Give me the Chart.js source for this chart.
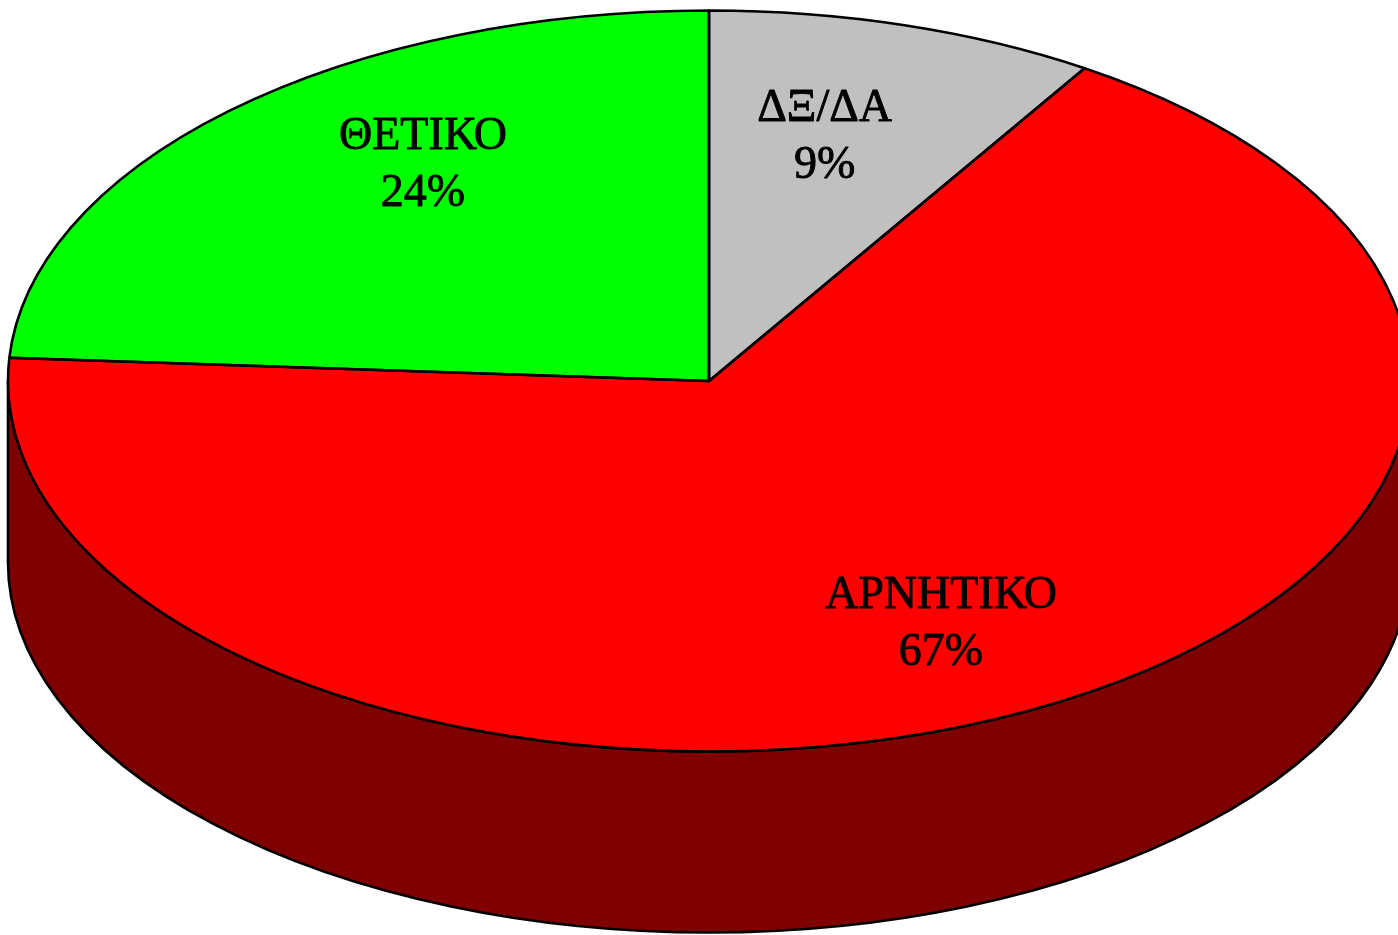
<!DOCTYPE html>
<html>
<head>
<meta charset="utf-8">
<script src="https://cdn.jsdelivr.net/npm/chart.js@4.4.0/dist/chart.umd.min.js"></script>
<style>
html, body { margin: 0; padding: 0; background: #fff; overflow: hidden; }
#wrap { position: relative; width: 1410px; height: 935px; }
</style>
</head>
<body>
<div id="wrap"><canvas id="pieChart"></canvas></div>
<script>
const labels = ['ΔΞ/ΔΑ', 'ΑΡΝΗΤΙΚΟ', 'ΘΕΤΙΚΟ']
const values = [9, 67, 24]
const colors = ['#C0C0C0', '#FF0000', '#00FF00']
// label block spots, as fractions of the ellipse radii from the centre
const labelSpots = [[0.165, -0.702], [0.331, 0.613], [-0.408, -0.626]]

function darker(hex) {
    let n = parseInt(hex.slice(1), 16)
    let r = (n >> 16) & 255, g = (n >> 8) & 255, b = n & 255
    return 'rgb(' + (r >> 1) + ',' + (g >> 1) + ',' + (b >> 1) + ')'
}

// squash the round pie into a tilted ellipse and give it a side wall
const pie3d = {
    id: 'pie3d',
    geom(chart) {
        const arc = chart.getDatasetMeta(0).data[0]
        const o = chart.options.plugins.pie3d
        const rx = chart.chartArea.width / 2
        return { cx: arc.x, cy: arc.y, R: arc.outerRadius, rx: rx, ry: rx * o.tilt, depth: o.depth }
    },
    squash(ctx, g) {
        ctx.translate(g.cx, g.cy)
        ctx.scale(g.rx / g.R, g.ry / g.R)
        ctx.translate(-g.cx, -g.cy)
    },
    beforeDatasetsDraw(chart) {
        const ctx = chart.ctx
        const g = this.geom(chart)
        const meta = chart.getDatasetMeta(0)
        ctx.save()
        ctx.lineWidth = 2.6
        ctx.strokeStyle = '#000'
        meta.data.forEach((a, i) => {
            // only the front half of the rim is visible
            const ranges = [[0, Math.PI], [2 * Math.PI, 3 * Math.PI], [-2 * Math.PI, -Math.PI]]
            ranges.forEach(([lo, hi]) => {
                const s = Math.max(a.startAngle, lo), e = Math.min(a.endAngle, hi)
                if (e <= s) return
                ctx.beginPath()
                ctx.ellipse(g.cx, g.cy, g.rx, g.ry, 0, s, e, false)
                ctx.ellipse(g.cx, g.cy + g.depth, g.rx, g.ry, 0, e, s, true)
                ctx.closePath()
                ctx.fillStyle = darker(colors[i])
                ctx.fill()
                ctx.stroke()
            })
        })
        ctx.restore()
        ctx.save()
        this.squash(ctx, g)
    },
    afterDatasetsDraw(chart) {
        const ctx = chart.ctx
        ctx.restore()
        const g = this.geom(chart)
        ctx.save()
        ctx.lineWidth = 2.6
        ctx.strokeStyle = '#000'
        ctx.lineJoin = 'round'
        chart.getDatasetMeta(0).data.forEach(a => {
            ctx.save()
            this.squash(ctx, g)
            ctx.beginPath()
            ctx.moveTo(g.cx, g.cy)
            ctx.arc(g.cx, g.cy, g.R, a.startAngle, a.endAngle)
            ctx.closePath()
            ctx.restore()
            ctx.stroke()
        })
        // labels
        const total = values.reduce((s, v) => s + v, 0)
        ctx.fillStyle = '#000'
        ctx.lineWidth = 0.9
        ctx.font = '46px "Liberation Serif", "DejaVu Serif", serif'
        ctx.textAlign = 'center'
        ctx.textBaseline = 'alphabetic'
        labels.forEach((l, i) => {
            const x = g.cx + labelSpots[i][0] * g.rx
            const y = g.cy + labelSpots[i][1] * g.ry
            const pct = Math.round(values[i] / total * 100) + '%'
            ctx.fillText(l, x, y)
            ctx.strokeText(l, x, y)
            ctx.fillText(pct, x, y + 57)
            ctx.strokeText(pct, x, y + 57)
        })
        ctx.restore()
    }
}

new Chart('pieChart', {
    type: 'pie',
    data: {
        labels: labels,
        datasets: [{
            data: values,
            backgroundColor: colors,
            borderWidth: 0,
            clip: false,
        }]
    },
    options: {
        responsive: true,
        maintainAspectRatio: false,
        animation: false,
        events: [],
        layout: {
            padding: { left: 8, top: 0, right: 0, bottom: 173 }
        },
        plugins: {
            legend: { display: false },
            tooltip: { enabled: false },
            pie3d: { tilt: 0.5285, depth: 181 },
        },
    },
    plugins: [pie3d]
})
</script>
</body>
</html>
